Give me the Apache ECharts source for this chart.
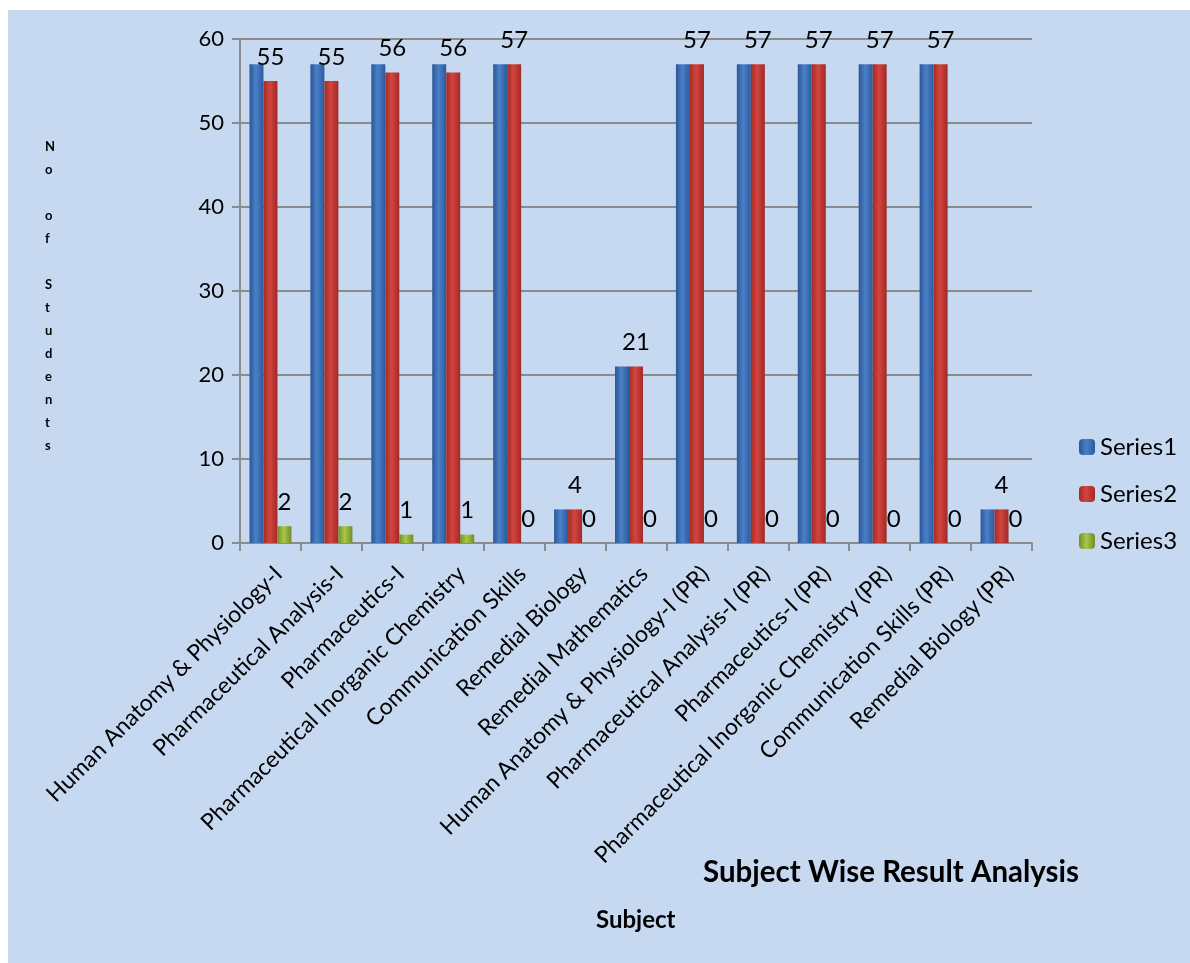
<!DOCTYPE html>
<html>
<head>
<meta charset="utf-8">
<script src="https://cdn.jsdelivr.net/npm/echarts@6/dist/echarts.min.js"></script>
<style>
html,body{margin:0;padding:0;background:#ffffff;}
#chart{width:1190px;height:963px;}
</style>
</head>
<body>
<div id="chart"></div>
<script>
var categories = [
  "Human Anatomy & Physiology-I",
  "Pharmaceutical Analysis-I",
  "Pharmaceutics-I",
  "Pharmaceutical Inorganic Chemistry",
  "Communication Skills",
  "Remedial Biology",
  "Remedial Mathematics",
  "Human Anatomy & Physiology-I (PR)",
  "Pharmaceutical Analysis-I (PR)",
  "Pharmaceutics-I (PR)",
  "Pharmaceutical Inorganic Chemistry (PR)",
  "Communication Skills (PR)",
  "Remedial Biology (PR)"
];
var series1 = [57, 57, 57, 57, 57, 4, 21, 57, 57, 57, 57, 57, 4];
var series2 = [55, 55, 56, 56, 57, 4, 21, 57, 57, 57, 57, 57, 4];
var series3 = [2, 2, 1, 1, 0, 0, 0, 0, 0, 0, 0, 0, 0];
var yTicks = [0, 10, 20, 30, 40, 50, 60];

var FONT = 'Lato, "Open Sans", sans-serif';

function grad(dark, mid, dark2) {
  return new echarts.graphic.LinearGradient(0, 0, 1, 0, [
    {offset: 0, color: dark},
    {offset: 0.45, color: mid},
    {offset: 1, color: dark2}
  ]);
}

var chart = echarts.init(document.getElementById('chart'), null, {renderer: 'canvas'});

var labelStyle = {
  show: true,
  position: 'top',
  distance: 12,
  fontSize: 24,
  color: '#000',
  fontFamily: FONT
};

var option = {
  backgroundColor: '#ffffff',
  animation: false,
  textStyle: {fontFamily: FONT},
  graphic: [
    {
      type: 'rect', z: -10, silent: true,
      shape: {x: 8, y: 10, width: 1182, height: 953},
      style: {fill: '#C6D9F1'}
    },
    {
      type: 'text', left: 45, top: 135,
      style: {
        text: 'N\no\n\no\nf\n\nS\nt\nu\nd\ne\nn\nt\ns',
        font: 'bold 13px ' + FONT,
        lineHeight: 23,
        align: 'center',
        fill: '#000'
      }
    },
    {
      type: 'text', left: 596, top: 908,
      style: {
        text: 'Subject',
        font: 'bold 24px ' + FONT,
        fill: '#000'
      }
    },
    {
      type: 'text', left: 703, top: 857,
      style: {
        text: 'Subject Wise Result Analysis',
        font: 'bold 29.5px ' + FONT,
        fill: '#000'
      }
    }
  ],
  legend: {
    orient: 'vertical',
    left: 1074,
    top: 430,
    itemWidth: 16,
    itemHeight: 16,
    itemGap: 23,
    textStyle: {fontSize: 24, color: '#000', fontFamily: FONT},
    data: ['Series1', 'Series2', 'Series3']
  },
  grid: {left: 240, right: 158, top: 39, bottom: 420, containLabel: false},
  xAxis: {
    type: 'category',
    data: categories,
    boundaryGap: true,
    axisLine: {show: true, lineStyle: {color: '#8C8C8C', width: 2}},
    axisTick: {show: true, interval: 0, length: 8, lineStyle: {color: '#8C8C8C', width: 2}},
    axisLabel: {
      interval: 0, rotate: 45, fontSize: 23, color: '#000', fontFamily: FONT,
      margin: 19, verticalAlign: 'top'
    }
  },
  yAxis: {
    type: 'value',
    min: yTicks[0],
    max: yTicks[yTicks.length - 1],
    interval: 10,
    axisLine: {show: true, lineStyle: {color: '#8C8C8C', width: 2}},
    axisTick: {show: true, length: 8, lineStyle: {color: '#8C8C8C', width: 2}},
    splitLine: {show: true, lineStyle: {color: '#8C8C8C', width: 2}},
    axisLabel: {fontSize: 22, color: '#000', fontFamily: FONT, margin: 16}
  },
  series: [
    {
      name: 'Series1', type: 'bar', data: series1,
      barWidth: 14, barGap: '0%',
      itemStyle: {color: grad('#2B5695', '#4A80C8', '#2C5A9C')}
    },
    {
      name: 'Series2', type: 'bar', data: series2,
      barWidth: 14, barGap: '0%',
      itemStyle: {color: grad('#A22C28', '#D4443E', '#A02A27')},
      label: labelStyle
    },
    {
      name: 'Series3', type: 'bar', data: series3,
      barWidth: 14, barGap: '0%',
      itemStyle: {color: grad('#748F26', '#A9C74B', '#728C25')},
      label: labelStyle
    }
  ]
};
chart.setOption(option);
</script>
</body>
</html>
